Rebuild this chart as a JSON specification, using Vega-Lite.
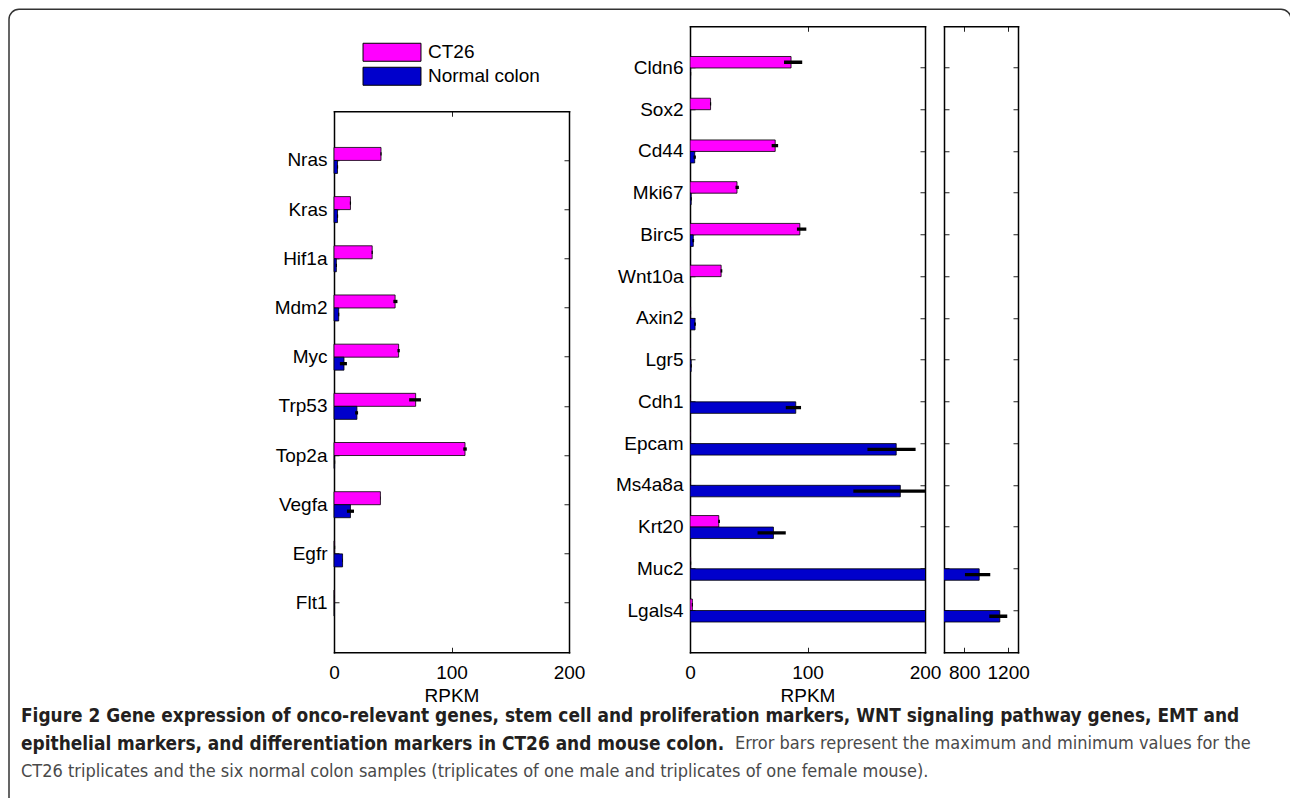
{
  "$schema": "https://vega.github.io/schema/vega-lite/v6.json",
  "padding": {"top": 8.25, "left": 0, "right": 0, "bottom": 0},
  "background": "white",
  "datasets": {
    "left": [
      {"gene": "Nras", "series": "CT26", "value": 40, "min": 39.5, "max": 40.5},
      {"gene": "Nras", "series": "Normal colon", "value": 3, "min": 2.5, "max": 3.5},
      {"gene": "Kras", "series": "CT26", "value": 14, "min": 13.5, "max": 14.5},
      {"gene": "Kras", "series": "Normal colon", "value": 3, "min": 2.5, "max": 3.5},
      {"gene": "Hif1a", "series": "CT26", "value": 32.5, "min": 32, "max": 33},
      {"gene": "Hif1a", "series": "Normal colon", "value": 2, "min": 1.5, "max": 2.5},
      {"gene": "Mdm2", "series": "CT26", "value": 52, "min": 50.5, "max": 54},
      {"gene": "Mdm2", "series": "Normal colon", "value": 4, "min": 3.5, "max": 4.5},
      {"gene": "Myc", "series": "CT26", "value": 55, "min": 54, "max": 56},
      {"gene": "Myc", "series": "Normal colon", "value": 8.5, "min": 5, "max": 11},
      {"gene": "Trp53", "series": "CT26", "value": 69.5, "min": 64, "max": 74},
      {"gene": "Trp53", "series": "Normal colon", "value": 19.5, "min": 18, "max": 20.5},
      {"gene": "Top2a", "series": "CT26", "value": 111.5, "min": 110, "max": 113},
      {"gene": "Top2a", "series": "Normal colon", "value": 0.5, "min": 0, "max": 1},
      {"gene": "Vegfa", "series": "CT26", "value": 39.5, "min": 39.3, "max": 39.7},
      {"gene": "Vegfa", "series": "Normal colon", "value": 14, "min": 11, "max": 17},
      {"gene": "Egfr", "series": "CT26", "value": 0.5, "min": 0, "max": 1},
      {"gene": "Egfr", "series": "Normal colon", "value": 7.3, "min": 7, "max": 7.5},
      {"gene": "Flt1", "series": "CT26", "value": 0.3, "min": 0, "max": 0.6},
      {"gene": "Flt1", "series": "Normal colon", "value": 0.3, "min": 0, "max": 0.6}
    ],
    "middle": [
      {"gene": "Cldn6", "series": "CT26", "value": 86, "min": 80, "max": 95.5},
      {"gene": "Cldn6", "series": "Normal colon", "value": 0.5, "min": 0, "max": 1},
      {"gene": "Sox2", "series": "CT26", "value": 17.5, "min": 17, "max": 18},
      {"gene": "Sox2", "series": "Normal colon", "value": 0.3, "min": 0, "max": 0.5},
      {"gene": "Cd44", "series": "CT26", "value": 72.5, "min": 69.5, "max": 75},
      {"gene": "Cd44", "series": "Normal colon", "value": 4, "min": 3, "max": 5},
      {"gene": "Mki67", "series": "CT26", "value": 40, "min": 38.7, "max": 41.6},
      {"gene": "Mki67", "series": "Normal colon", "value": 1, "min": 0.5, "max": 1.5},
      {"gene": "Birc5", "series": "CT26", "value": 93.5, "min": 91, "max": 99},
      {"gene": "Birc5", "series": "Normal colon", "value": 2.8, "min": 2, "max": 3.5},
      {"gene": "Wnt10a", "series": "CT26", "value": 26.5, "min": 26, "max": 27.5},
      {"gene": "Wnt10a", "series": "Normal colon", "value": 0.3, "min": 0, "max": 0.6},
      {"gene": "Axin2", "series": "CT26", "value": 0.5, "min": 0, "max": 1},
      {"gene": "Axin2", "series": "Normal colon", "value": 4.3, "min": 3.5, "max": 5},
      {"gene": "Lgr5", "series": "CT26", "value": 0.3, "min": 0, "max": 0.6},
      {"gene": "Lgr5", "series": "Normal colon", "value": 1, "min": 0.5, "max": 1.5},
      {"gene": "Cdh1", "series": "CT26", "value": 0.3, "min": 0, "max": 0.8},
      {"gene": "Cdh1", "series": "Normal colon", "value": 90, "min": 81.5, "max": 94.5},
      {"gene": "Epcam", "series": "CT26", "value": 0.3, "min": 0, "max": 0.8},
      {"gene": "Epcam", "series": "Normal colon", "value": 175.5, "min": 151, "max": 192},
      {"gene": "Ms4a8a", "series": "CT26", "value": 0.3, "min": 0, "max": 0.8},
      {"gene": "Ms4a8a", "series": "Normal colon", "value": 179, "min": 139, "max": 215},
      {"gene": "Krt20", "series": "CT26", "value": 24.5, "min": 24, "max": 25.5},
      {"gene": "Krt20", "series": "Normal colon", "value": 71, "min": 57.5, "max": 81.5},
      {"gene": "Muc2", "series": "CT26", "value": 0.5, "min": 0, "max": 1},
      {"gene": "Muc2", "series": "Normal colon", "value": 936, "min": 806, "max": 1037},
      {"gene": "Lgals4", "series": "CT26", "value": 2, "min": 1.5, "max": 2.5},
      {"gene": "Lgals4", "series": "Normal colon", "value": 1124, "min": 1028, "max": 1192}
    ],
    "captionBold": [
      {"x": 21, "y": 716, "text": "Figure 2 Gene expression of onco-relevant genes, stem cell and proliferation markers, WNT signaling pathway genes, EMT and"},
      {"x": 21, "y": 744, "text": "epithelial markers, and differentiation markers in CT26 and mouse colon."}
    ],
    "captionNormal": [
      {"x": 735, "y": 744, "text": "Error bars represent the maximum and minimum values for the"},
      {"x": 21, "y": 772, "text": "CT26 triplicates and the six normal colon samples (triplicates of one male and triplicates of one female mouse)."}
    ],
    "frame": [
      {"x": 9, "y": 9, "x2": 1291, "y2": 830}
    ]
  },
  "bounds": "flush",
  "spacing": 0,
  "resolve": {"scale": {"x": "independent", "y": "independent", "color": "independent", "yOffset": "independent"}},
  "hconcat": [
    {
      "width": 334,
      "height": 626,
      "layer": [
        {
          "data": {"name": "frame"},
          "mark": {"type": "rect", "fill": "transparent", "stroke": "#333333", "strokeWidth": 1.5, "cornerRadius": 10},
          "encoding": {
            "x": {"field": "x", "type": "quantitative", "scale": {"domain": [0, 334], "nice": false, "zero": false}, "axis": null},
            "y": {"field": "y", "type": "quantitative", "scale": {"domain": [26, 652], "reverse": true, "nice": false, "zero": false}, "axis": null},
            "x2": {"field": "x2"},
            "y2": {"field": "y2"}
          }
        },
        {
          "data": {"name": "captionBold"},
          "mark": {"type": "text", "align": "left", "baseline": "middle", "font": "Liberation Sans Narrow, DejaVu Sans Condensed, Roboto", "fontSize": 18.9, "fontWeight": "bold", "color": "#231f20"},
          "encoding": {
            "x": {"field": "x", "type": "quantitative"},
            "y": {"field": "y", "type": "quantitative"},
            "text": {"field": "text"}
          }
        },
        {
          "data": {"name": "captionNormal"},
          "mark": {"type": "text", "align": "left", "baseline": "middle", "font": "Liberation Sans Narrow, DejaVu Sans Condensed, Roboto", "fontSize": 18, "fontWeight": "normal", "color": "#4a4a4a"},
          "encoding": {
            "x": {"field": "x", "type": "quantitative"},
            "y": {"field": "y", "type": "quantitative"},
            "text": {"field": "text"}
          }
        }
      ]
    },
    {
      "width": 235,
      "height": 626,
      "data": {"name": "left"},
      "layer": [
        {
          "mark": {"type": "bar", "stroke": "black", "strokeWidth": 0.8, "opacity": 1},
          "encoding": {
            "y": {"field": "gene", "type": "nominal", "sort": null, "scale": {"range": [85, 626], "paddingInner": 0.471, "paddingOuter": 0.7355}, "axis": {"orient": "left", "title": null}},
            "yOffset": {"field": "series", "type": "nominal", "sort": ["CT26", "Normal colon"], "scale": {"paddingInner": 0, "paddingOuter": 0}},
            "x": {"field": "value", "type": "quantitative", "scale": {"domain": [0, 200], "nice": false}, "axis": {"orient": "bottom", "values": [0, 100, 200], "format": "d", "title": "RPKM"}},
            "color": {
              "field": "series", "type": "nominal",
              "scale": {"domain": ["CT26", "Normal colon"], "range": ["#ff00ff", "#0000cc"]},
              "legend": {
                "orient": "none", "legendX": 48.5, "legendY": 16.5, "title": null,
                "symbolType": "M-3.22,-1H3.22V1H-3.22Z", "symbolSize": 324,
                "symbolStrokeColor": "black", "symbolStrokeWidth": 1, "symbolOpacity": 1,
                "labelFont": "Liberation Sans", "labelFontSize": 19, "labelColor": "black",
                "labelOffset": 26.5, "rowPadding": 1, "padding": 0, "labelLimit": 300
              }
            }
          }
        },
        {
          "mark": {"type": "rule", "color": "black", "strokeWidth": 3.3},
          "encoding": {
            "y": {"field": "gene", "type": "nominal", "sort": null, "axis": {"orient": "right", "labels": false, "title": null}},
            "yOffset": {"field": "series", "type": "nominal", "sort": ["CT26", "Normal colon"]},
            "x": {"field": "min", "type": "quantitative", "axis": {"orient": "top", "offset": -85, "values": [0, 100, 200], "labels": false, "title": null}},
            "x2": {"field": "max"}
          }
        }
      ],
      "resolve": {"axis": {"x": "independent", "y": "independent"}}
    },
    {"width": 121, "height": 10, "data": {"values": [{}]}, "mark": {"type": "point", "opacity": 0}},
    {
      "width": 235,
      "height": 626,
      "data": {"name": "middle"},
      "layer": [
        {
          "mark": {"type": "bar", "stroke": "black", "strokeWidth": 0.8, "opacity": 1, "clip": true},
          "encoding": {
            "y": {"field": "gene", "type": "nominal", "sort": null, "scale": {"paddingInner": 0.449, "paddingOuter": 0.7245}, "axis": {"orient": "left", "title": null}},
            "yOffset": {"field": "series", "type": "nominal", "sort": ["CT26", "Normal colon"], "scale": {"paddingInner": 0, "paddingOuter": 0}},
            "x": {"field": "value", "type": "quantitative", "scale": {"domain": [0, 200], "nice": false}, "axis": {"orient": "bottom", "values": [0, 100, 200], "format": "d", "title": "RPKM"}},
            "color": {"field": "series", "type": "nominal", "scale": {"domain": ["CT26", "Normal colon"], "range": ["#ff00ff", "#0000cc"]}, "legend": null}
          }
        },
        {
          "mark": {"type": "rule", "color": "black", "strokeWidth": 3.3, "clip": true},
          "encoding": {
            "y": {"field": "gene", "type": "nominal", "sort": null, "axis": {"orient": "right", "labels": false, "title": null}},
            "yOffset": {"field": "series", "type": "nominal", "sort": ["CT26", "Normal colon"]},
            "x": {"field": "min", "type": "quantitative", "axis": {"orient": "top", "values": [0, 100, 200], "labels": false, "title": null}},
            "x2": {"field": "max"}
          }
        }
      ],
      "resolve": {"axis": {"x": "independent", "y": "independent"}}
    },
    {"width": 19, "height": 10, "data": {"values": [{}]}, "mark": {"type": "point", "opacity": 0}},
    {
      "width": 74,
      "height": 626,
      "data": {"name": "middle"},
      "layer": [
        {
          "mark": {"type": "bar", "stroke": "black", "strokeWidth": 0.8, "opacity": 1, "clip": true},
          "encoding": {
            "y": {"field": "gene", "type": "nominal", "sort": null, "scale": {"paddingInner": 0.449, "paddingOuter": 0.7245}, "axis": {"orient": "left", "labels": false, "title": null}},
            "yOffset": {"field": "series", "type": "nominal", "sort": ["CT26", "Normal colon"], "scale": {"paddingInner": 0, "paddingOuter": 0}},
            "x": {"field": "value", "type": "quantitative", "scale": {"domain": [615, 1290], "nice": false, "zero": false}, "axis": {"orient": "bottom", "values": [800, 1200], "format": "d", "title": null}},
            "color": {"field": "series", "type": "nominal", "scale": {"domain": ["CT26", "Normal colon"], "range": ["#ff00ff", "#0000cc"]}, "legend": null}
          }
        },
        {
          "mark": {"type": "rule", "color": "black", "strokeWidth": 3.3, "clip": true},
          "encoding": {
            "y": {"field": "gene", "type": "nominal", "sort": null, "axis": {"orient": "right", "labels": false, "title": null}},
            "yOffset": {"field": "series", "type": "nominal", "sort": ["CT26", "Normal colon"]},
            "x": {"field": "min", "type": "quantitative", "axis": {"orient": "top", "values": [800, 1200], "labels": false, "title": null}},
            "x2": {"field": "max"}
          }
        }
      ],
      "resolve": {"axis": {"x": "independent", "y": "independent"}}
    }
  ],
  "config": {
    "view": {"stroke": null},
    "font": "Liberation Sans",
    "axis": {
      "labelFont": "Liberation Sans", "labelFontSize": 19, "labelColor": "black",
      "tickColor": "#222222", "tickWidth": 1, "tickSize": -5,
      "domain": true, "domainColor": "black", "domainWidth": 1.5, "domainCap": "square",
      "grid": false, "zindex": 1,
      "titleFont": "Liberation Sans", "titleFontSize": 19, "titleFontWeight": "normal", "titleColor": "black",
      "labelFlush": false, "labelOverlap": false, "labelLimit": 300
    },
    "axisX": {"labelPadding": 16, "titlePadding": 4},
    "axisY": {"labelPadding": 12}
  }
}
